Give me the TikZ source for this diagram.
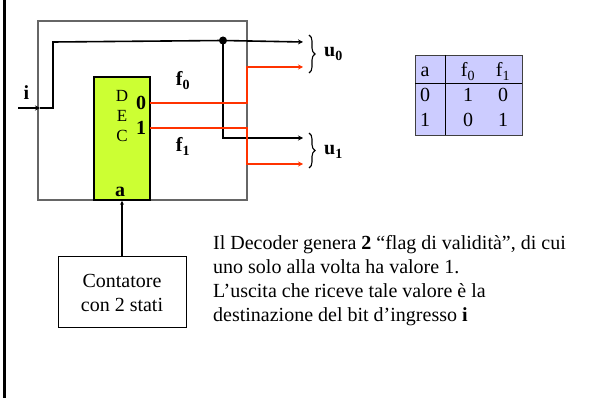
\documentclass[tikz,border=0pt]{standalone}
\usepackage{fontspec}
\setmainfont{Liberation Serif}
\usetikzlibrary{arrows.meta,decorations.pathreplacing}
\definecolor{decgreen}{HTML}{CCFF33}
\definecolor{tabblue}{HTML}{CCCCFF}
\definecolor{wirered}{HTML}{FF3300}
\tikzset{
  wire/.style={line width=1.6pt,black},
  rwire/.style={line width=1.6pt,wirered},
  tip/.style={-{Stealth[length=5pt,width=5pt]}},
  lbl/.style={inner sep=0pt,anchor=base,font=\fontsize{20}{22}\selectfont\bfseries},
  body/.style={inner sep=0pt,anchor=base west,font=\fontsize{20}{24}\selectfont},
  tcell/.style={inner sep=0pt,anchor=base,font=\fontsize{20}{24}\selectfont},
  brc/.style={decorate,decoration={brace,amplitude=6pt},line width=1.1pt}
}
\begin{document}
\begin{tikzpicture}[x=1pt,y=-1pt]
\useasboundingbox (0,0) rectangle (596,398);
% left bar
\draw[line width=3pt] (4,0) -- (4,398);
% outer box
\draw[line width=1.2pt,gray!80!black] (38,21) rectangle (247,200);
% decoder
\node[draw=black,line width=1.6pt,fill=decgreen,minimum width=56pt,minimum height=123pt,inner sep=0pt] (dec) at (122,138.5) {};
\node[inner sep=0pt,anchor=base,font=\fontsize{17}{20}\selectfont] (d1) at (122,101.5) {D};
\node[inner sep=0pt,anchor=base,font=\fontsize{17}{20}\selectfont] (d2) at (122,121.5) {E};
\node[inner sep=0pt,anchor=base,font=\fontsize{17}{20}\selectfont] (d3) at (122,141.5) {C};
\node[lbl] (o0) at (141,109.5) {0};
\node[lbl] (o1) at (141,134.5) {1};
\node[lbl] (la) at (120,196.5) {a};
% coordinates
\coordinate (in0) at (18,108);
\coordinate (inb) at (40,108);
\coordinate (c1) at (53,108);
\coordinate (c2) at (53,42);
\node[circle,fill=black,inner sep=0pt,minimum size=8pt] (dot) at (223,40.5) {};
\coordinate (u0a) at (303,42);
\coordinate (c3) at (223,138);
\coordinate (u1a) at (303,138);
\coordinate (p0) at (150,103);
\coordinate (q0) at (247,103);
\coordinate (r0) at (247,67);
\coordinate (u0b) at (303,67);
\coordinate (p1) at (150,128);
\coordinate (q1) at (247,128);
\coordinate (r1) at (247,164);
\coordinate (u1b) at (303,164);
% input
\draw[wire,tip] (in0) -- (inb);
\draw[wire] (inb) -- (c1) -- (c2) -- (dot.center);
\draw[wire,tip] (dot.center) -- (u0a);
\draw[wire,tip] (dot.center) -- (c3) -- (u1a);
% red flags
\draw[rwire,tip] (p0) -- (q0) -- (r0) -- (u0b);
\draw[rwire,tip] (p1) -- (q1) -- (r1) -- (u1b);
% labels
\node[lbl] (li) at (26.5,100) {i};
\node[lbl] (lf0) at (183,86) {f\textsubscript{0}};
\node[lbl] (lf1) at (183,152) {f\textsubscript{1}};
% braces
\draw[brc] (309,35) -- (309,73);
\draw[brc] (309,133) -- (309,168);
\node[lbl,anchor=base west] (lu0) at (324,57) {u\textsubscript{0}};
\node[lbl,anchor=base west] (lu1) at (324,155) {u\textsubscript{1}};
% counter
\node[draw=black,line width=0.9pt,minimum width=128pt,minimum height=71pt,inner sep=0pt] (cnt) at (122,291.5) {};
\node[tcell] (ct1) at (122,287) {Contatore};
\node[tcell] (ct2) at (122,311) {con 2 stati};
\draw[line width=1.6pt,-{Stealth[length=4pt,width=4pt]}] (cnt.north) -- (dec.south);
% table
\node[draw=black!75,line width=0.9pt,fill=tabblue,minimum width=107pt,minimum height=80pt,inner sep=0pt] (tab) at (468.5,95) {};
\draw[line width=0.9pt] (415,83) -- (522,83);
\draw[line width=0.9pt] (445,55) -- (445,135);
\node[tcell] (ta) at (425,77) {a};
\node[tcell] (tf0) at (468,77) {f\textsubscript{0}};
\node[tcell] (tf1) at (503,77) {f\textsubscript{1}};
\node[tcell] (t11) at (425,102) {0};
\node[tcell] (t12) at (468,102) {1};
\node[tcell] (t13) at (503,102) {0};
\node[tcell] (t21) at (425,127) {1};
\node[tcell] (t22) at (468,127) {0};
\node[tcell] (t23) at (503,127) {1};
% paragraph
\node[body] (l1) at (213,249) {Il Decoder genera \textbf{2} “flag di validità”, di cui};
\node[body] (l2) at (213,273) {uno solo alla volta ha valore 1.};
\node[body] (l3) at (213,297) {L’uscita che riceve tale valore è la};
\node[body] (l4) at (213,321) {destinazione del bit d’ingresso \textbf{i}};
\end{tikzpicture}
\end{document}
